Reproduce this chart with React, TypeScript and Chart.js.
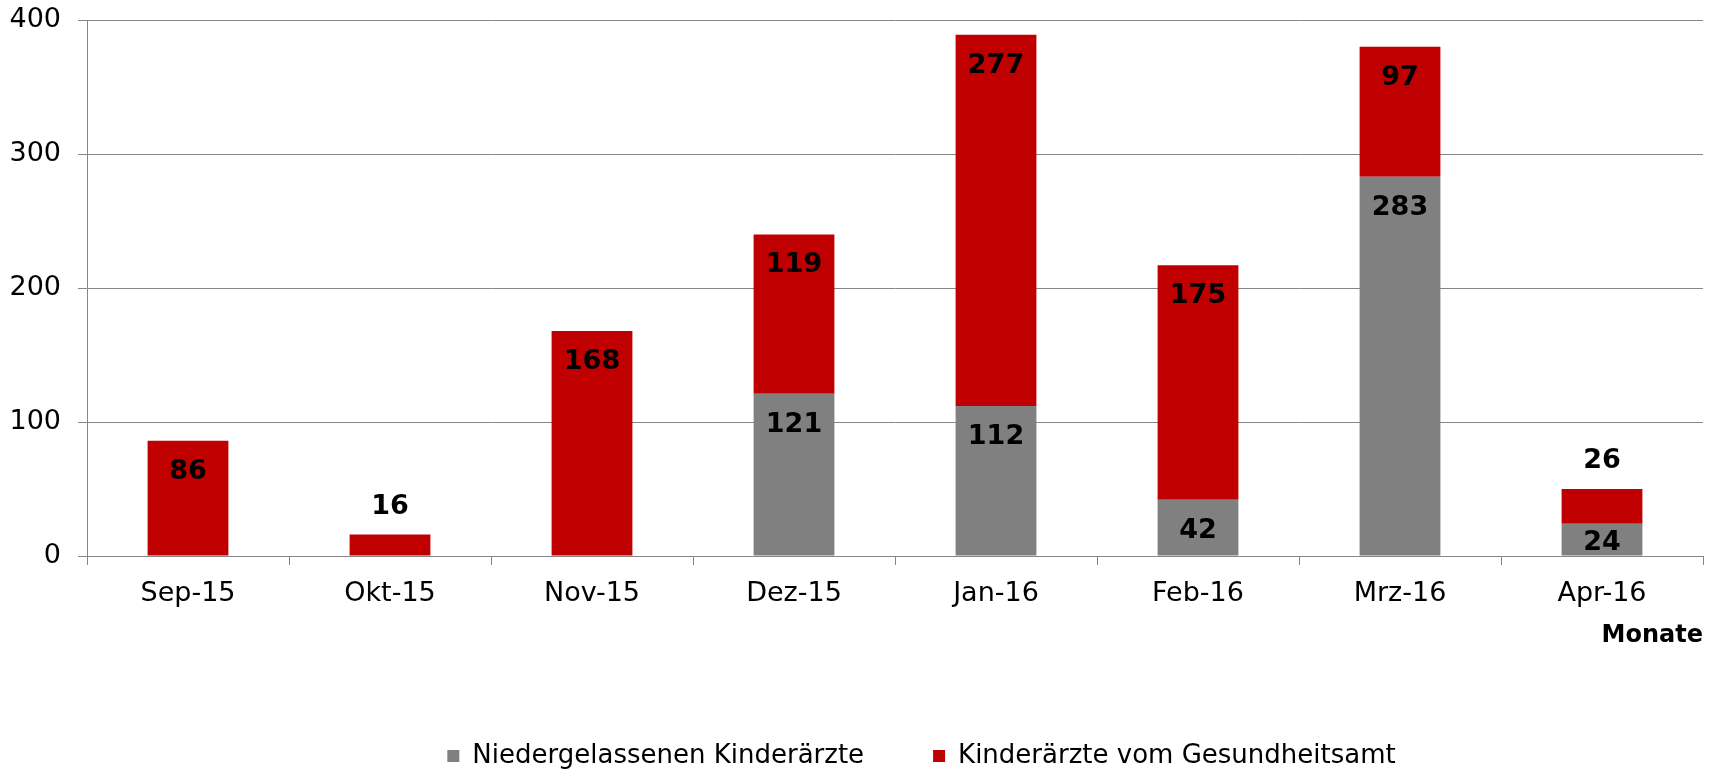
import React, { useEffect, useRef } from "react";
import { Chart, registerables } from "chart.js";

Chart.register(...registerables);

const categories = ["Sep-15", "Okt-15", "Nov-15", "Dez-15", "Jan-16", "Feb-16", "Mrz-16", "Apr-16"];
const niedergelassen = [0, 0, 0, 121, 112, 42, 283, 24];
const gesundheitsamt = [86, 16, 168, 119, 277, 175, 97, 26];
const seriesNames = ["Niedergelassenen Kinderärzte", "Kinderärzte vom Gesundheitsamt"];
const seriesColors = ["#808080", "#C00000"];
const yTicks = [0, 100, 200, 300, 400];
const xTitle = "Monate";

const FONT = '"DejaVu Sans", Verdana, sans-serif';
const GRID = "#868686";

const labelPlugin = {
  id: "barLabels",
  afterDatasetsDraw(chart: any) {
    const ctx = chart.ctx;
    ctx.save();
    ctx.font = `bold 27px ${FONT}`;
    ctx.fillStyle = "#000";
    ctx.textAlign = "center";
    ctx.textBaseline = "middle";
    chart.data.datasets.forEach((ds: any, di: number) => {
      const meta = chart.getDatasetMeta(di);
      meta.data.forEach((el: any, i: number) => {
        const v = ds.data[i];
        if (!v) return;
        const p = el.getProps(["x", "y", "base"], true);
        const top = Math.min(p.y, p.base);
        const bottom = Math.max(p.y, p.base);
        const h = bottom - top;
        let ly: number;
        if (di === 1 && h < 40) ly = top - 28;
        else ly = Math.min(top + 31, bottom - 13);
        ctx.fillText(String(v), p.x, ly);
      });
    });
    ctx.restore();
  },
};

const legendShift = {
  id: "legendShift",
  afterLayout(chart: any) {
    const lg = chart.legend;
    if (!lg) return;
    lg.left += 70;
    lg.right += 70;
    lg.top += 5;
    lg.bottom += 5;
  },
};

export default function App() {
  const ref = useRef<HTMLCanvasElement | null>(null);

  useEffect(() => {
    document.body.style.margin = "0";
    if (!ref.current) return;
    const chart = new Chart(ref.current, {
      type: "bar",
      data: {
        labels: categories,
        datasets: [
          {
            label: seriesNames[0],
            data: niedergelassen,
            backgroundColor: seriesColors[0],
            borderWidth: 0,
            barPercentage: 0.4,
            categoryPercentage: 1,
          },
          {
            label: seriesNames[1],
            data: gesundheitsamt,
            backgroundColor: seriesColors[1],
            borderWidth: 0,
            barPercentage: 0.4,
            categoryPercentage: 1,
          },
        ],
      },
      options: {
        responsive: false,
        animation: false,
        devicePixelRatio: 1,
        layout: { padding: { top: 20, right: 18, left: 0, bottom: 0 } },
        plugins: {
          tooltip: { enabled: false },
          legend: {
            position: "bottom",
            labels: {
              boxWidth: 12,
              boxHeight: 12,
              padding: 69,
              color: "#000",
              font: { family: FONT, size: 26 },
            },
          },
        },
        scales: {
          x: {
            stacked: true,
            ticks: {
              color: "#000",
              font: { family: FONT, size: 27 },
              padding: 13,
              maxRotation: 0,
              autoSkip: false,
            },
            grid: {
              drawOnChartArea: false,
              drawTicks: true,
              tickLength: 9,
              color: GRID,
              offset: true,
            },
            border: { display: true, color: GRID },
            title: {
              display: true,
              text: xTitle,
              align: "end",
              color: "#000",
              font: { family: FONT, size: 24, weight: "bold" },
              padding: { top: 0, bottom: 19 },
            },
            afterFit(scale: any) {
              scale.height = 113;
            },
          },
          y: {
            stacked: true,
            min: 0,
            max: 400,
            afterBuildTicks(scale: any) {
              scale.ticks = yTicks.map((v) => ({ value: v }));
            },
            ticks: {
              color: "#000",
              font: { family: FONT, size: 27 },
              padding: 17,
            },
            grid: { color: GRID, tickLength: 9, drawTicks: true },
            border: { display: true, color: GRID },
            afterFit(scale: any) {
              scale.width = 87;
              scale.paddingTop = 0;
              scale.paddingBottom = 0;
            },
          },
        },
      },
      plugins: [labelPlugin, legendShift],
    });
    return () => chart.destroy();
  }, []);

  return (
    <div style={{ width: 1721, height: 774 }}>
      <canvas ref={ref} width={1721} height={774} style={{ display: "block" }} />
    </div>
  );
}
